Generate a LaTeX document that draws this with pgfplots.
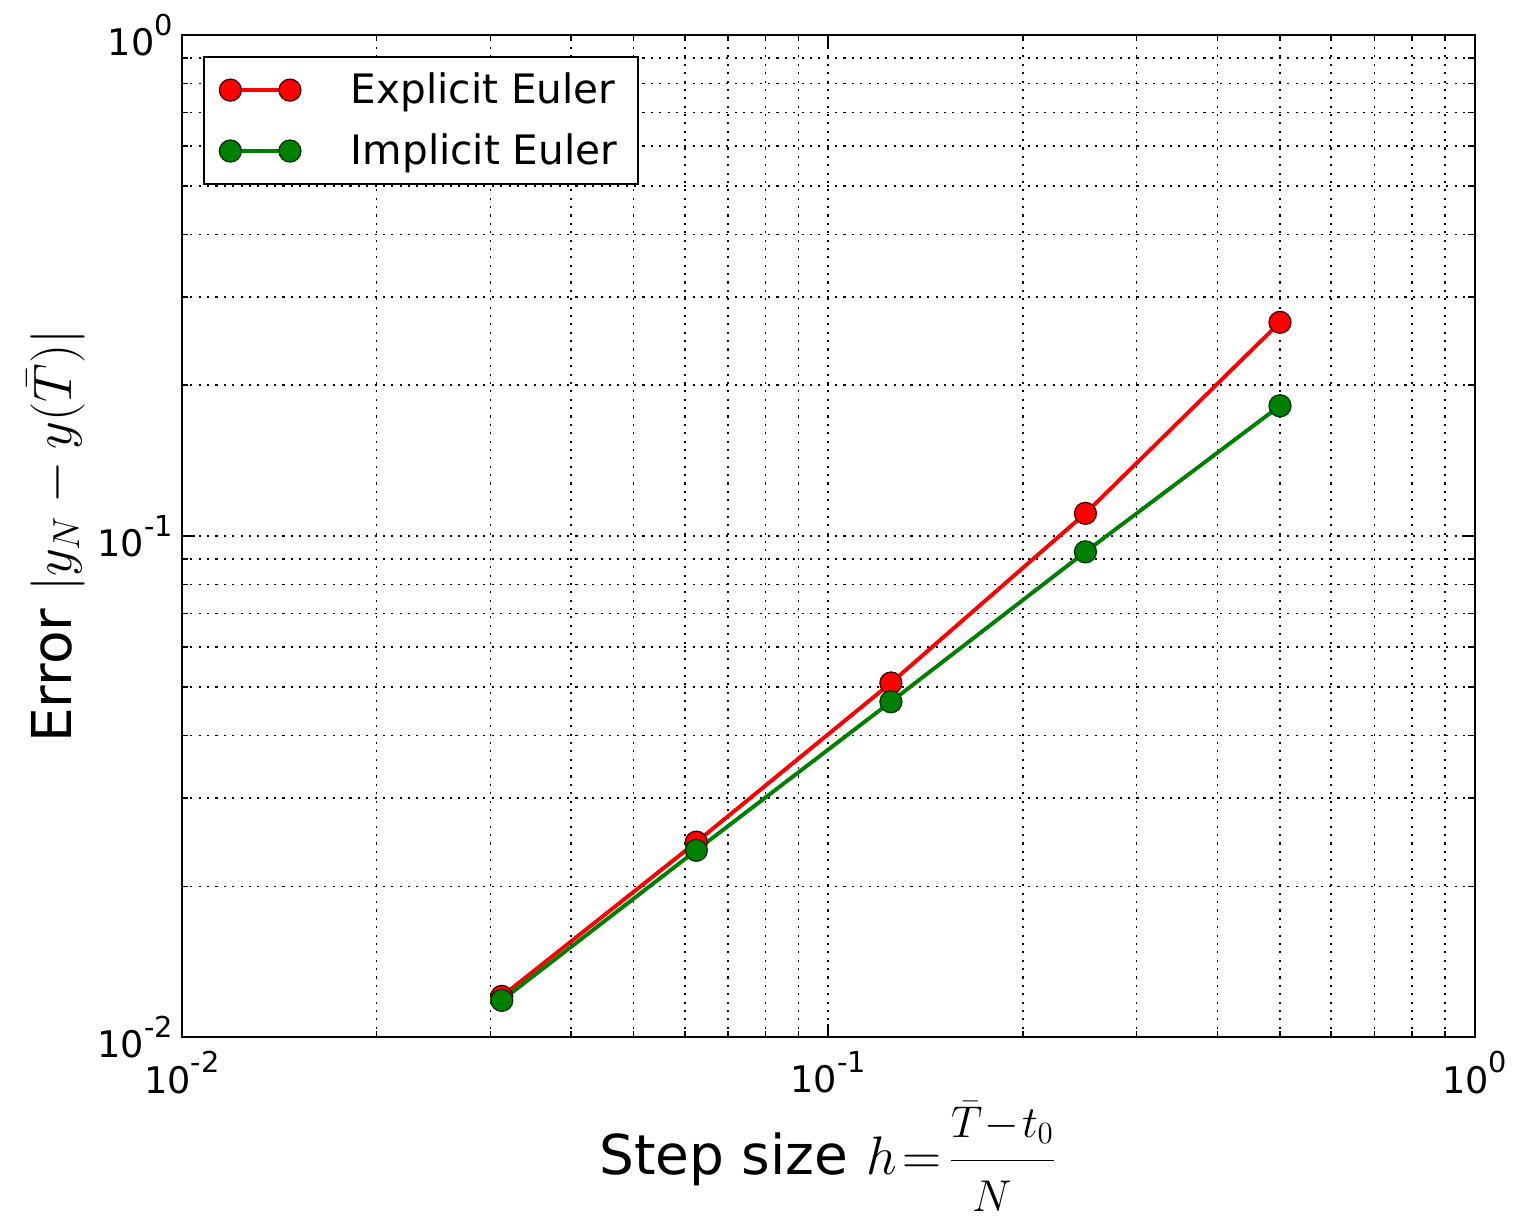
\documentclass[border=0pt]{standalone}
\usepackage{graphicx}
\usepackage{pgfplots}
\pgfplotsset{compat=1.18}
\usepackage{fontspec}
\setmainfont{DejaVu Sans}
\newcommand{\tl}[1]{10\raisebox{0.55em}{\fontsize{11}{12}\selectfont #1}}
\newcommand{\fr}[1]{\scalebox{0.82}{$#1$}}
\begin{document}
\begin{tikzpicture}
\begin{axis}[
  xmode=log, ymode=log,
  scale only axis,
  width=494pt, height=383pt,
  xmin=0.01, xmax=1, ymin=0.01, ymax=1,
  xtick={0.01,0.1,1}, ytick={0.01,0.1,1},
  xticklabels={\tl{-2},\tl{-1},\tl{0}},
  yticklabels={\tl{-2},\tl{-1},\tl{0}},
  minor xtick={0.02,0.03,0.04,0.05,0.06,0.07,0.08,0.09,0.2,0.3,0.4,0.5,0.6,0.7,0.8,0.9},
  minor ytick={0.02,0.03,0.04,0.05,0.06,0.07,0.08,0.09,0.2,0.3,0.4,0.5,0.6,0.7,0.8,0.9},
  tick label style={font=\fontsize{14}{16}\selectfont},
  xticklabel style={yshift=-2pt},
  grid=both,
  major grid style={black, dash pattern=on 0.8pt off 2.4pt, line width=0.6pt},
  minor grid style={black, dash pattern=on 0.8pt off 2.4pt, line width=0.6pt},
  tick align=inside,
  major tick length=5pt, minor tick length=2.5pt,
  every tick/.style={black, line width=0.6pt},
  axis line style={line width=0.8pt},
  xlabel={Step size $h\!=\!\displaystyle\frac{\fr{\bar{T}\!-\!t_0}}{\fr{N}}$},
  ylabel={Error $|y_N - y(\bar{T})|$},
  label style={font=\fontsize{21}{24}\selectfont},
  xlabel style={yshift=4pt},
  ylabel style={yshift=-2pt},
  legend style={at={(0.016,0.979)}, anchor=north west, draw=black, line width=0.8pt,
    font=\fontsize{15.5}{19}\selectfont, row sep=6pt, inner xsep=6pt, inner ysep=4pt,
    cells={anchor=west}},
  legend image code/.code={
    \draw[#1, line width=1.5pt] (0cm,0cm) -- (0.8cm,0cm);
    \draw[#1, mark repeat=1] plot coordinates {(0cm,0cm)};
    \draw[#1] plot coordinates {(0.8cm,0cm)};
  },
]
\addplot[red, line width=1.5pt, mark=*, mark size=4.2pt,
  mark options={fill=red, draw=black!70!red, line width=0.5pt}]
  coordinates {(0.03125,0.01206) (0.0625,0.0245) (0.125,0.0509) (0.25,0.111) (0.5,0.267)};
\addlegendentry{\hspace{0.6cm}Explicit Euler}
\addplot[black!50!green, line width=1.5pt, mark=*, mark size=4.2pt,
  mark options={fill=black!50!green, draw=black!80!green, line width=0.5pt}]
  coordinates {(0.03125,0.01184) (0.0625,0.0236) (0.125,0.0467) (0.25,0.093) (0.5,0.182)};
\addlegendentry{\hspace{0.6cm}Implicit Euler}
\end{axis}
\path (current bounding box.south west) ++(-7pt,0pt) (current bounding box.north east) ++(2pt,2pt);
\end{tikzpicture}
\end{document}
